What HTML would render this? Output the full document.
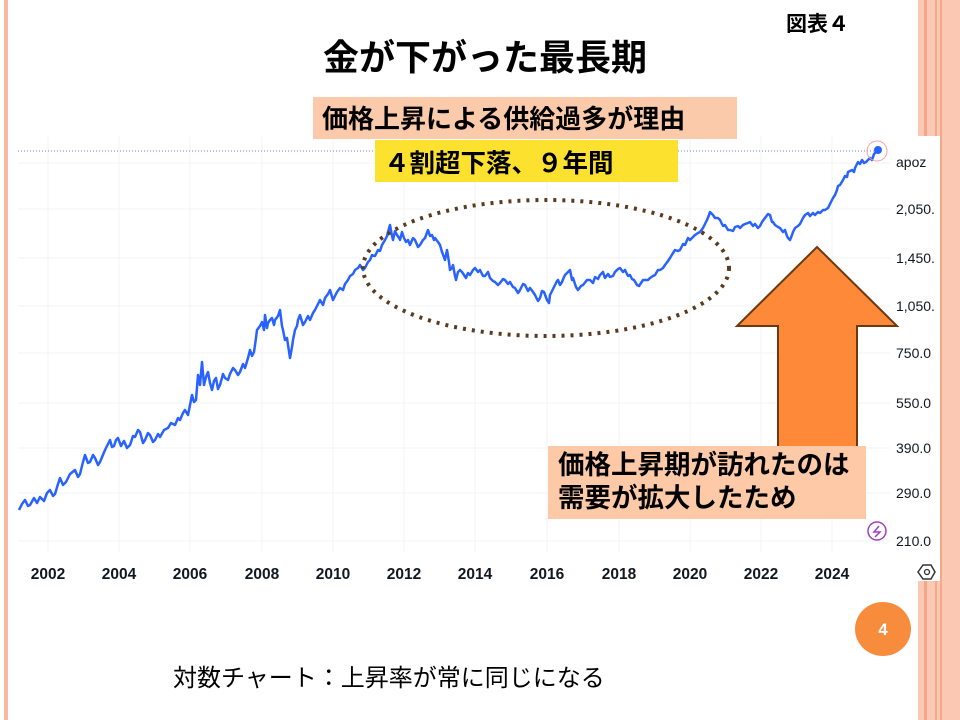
<!DOCTYPE html>
<html><head><meta charset="utf-8"><style>
body{margin:0;width:960px;height:720px;overflow:hidden;background:#fff;font-family:"Liberation Sans","Noto Sans CJK JP",sans-serif;position:relative}
.a{position:absolute;white-space:nowrap}
</style></head><body>
<div class="a" style="left:4px;top:0;width:4px;height:720px;background:#f7b9a0"></div>
<div class="a" style="left:918px;top:0;width:42px;height:720px;background:#fbc9b3"></div>
<div class="a" style="left:924px;top:0;width:3px;height:720px;background:#f4a88a"></div>
<div class="a" style="left:935px;top:0;width:2px;height:720px;background:#f4a88a"></div>
<div class="a" style="left:940px;top:0;width:2px;height:720px;background:#f4a88a"></div>
<svg class="a" style="left:0;top:0" width="960" height="720">
<rect x="14" y="136" width="926" height="445" fill="#fff"/>
<g stroke="#f0f3f7" stroke-width="1">
<line x1="18" x2="890" y1="163" y2="163"/><line x1="18" x2="890" y1="209" y2="209"/><line x1="18" x2="890" y1="258" y2="258"/><line x1="18" x2="890" y1="306" y2="306"/><line x1="18" x2="890" y1="353" y2="353"/><line x1="18" x2="890" y1="403" y2="403"/><line x1="18" x2="890" y1="448" y2="448"/><line x1="18" x2="890" y1="493" y2="493"/><line x1="18" x2="890" y1="541" y2="541"/>
<line x1="48" x2="48" y1="136" y2="552"/><line x1="119" x2="119" y1="136" y2="552"/><line x1="190" x2="190" y1="136" y2="552"/><line x1="262" x2="262" y1="136" y2="552"/><line x1="333" x2="333" y1="136" y2="552"/><line x1="404" x2="404" y1="136" y2="552"/><line x1="475" x2="475" y1="136" y2="552"/><line x1="547" x2="547" y1="136" y2="552"/><line x1="619" x2="619" y1="136" y2="552"/><line x1="690" x2="690" y1="136" y2="552"/><line x1="761" x2="761" y1="136" y2="552"/><line x1="832" x2="832" y1="136" y2="552"/>
</g>
<line x1="18" x2="880" y1="151" y2="151" stroke="#6f86d6" stroke-width="1" stroke-dasharray="1,2"/>
<polyline fill="none" stroke="#2962ff" stroke-width="2.5" stroke-linejoin="round" points="19,510 22,504 25,500 28,506 30,505 34,498 37,503 40,497 44,501 47,493 50,490 53,496 55,494 58,484 60,478 63,485 66,482 70,474 75,470 78,477 80,474 83,462 85,455 88,463 90,462 93,455 95,458 98,465 100,462 105,450 110,440 112,447 114,446 116,440 118,438 121,446 124,441 127,448 130,445 133,436 135,437 138,430 140,432 143,443 145,440 148,433 150,435 153,442 155,440 158,434 160,437 164,430 168,428 171,423 175,425 178,418 180,420 183,413 185,410 188,415 190,405 192,395 194,402 196,400 198,375 200,385 202,362 204,385 206,377 208,372 210,383 212,390 214,381 216,378 218,389 220,385 223,374 225,378 228,380 230,374 233,368 235,370 238,375 240,372 243,364 245,368 248,358 250,350 252,356 254,352 256,338 257,330 260,326 262,322 264,330 265,315 267,328 268,323 270,320 272,318 274,325 275,320 278,316 280,310 282,326 283,330 285,340 287,338 288,345 290,358 292,347 293,340 295,330 297,326 298,320 300,315 303,325 305,322 308,316 310,320 313,313 315,310 318,304 320,300 323,305 325,298 328,294 330,290 333,300 335,296 337,292 340,288 343,290 345,284 348,280 350,276 353,274 355,270 358,268 360,265 363,270 365,268 368,262 370,260 372,255 375,256 378,250 380,251 382,245 385,240 387,236 388,232 390,225 392,236 393,240 395,231 397,235 399,238 400,240 402,232 404,238 406,242 408,240 410,245 413,238 415,240 418,247 420,245 423,240 425,238 428,230 430,236 432,235 434,240 435,238 438,242 440,245 442,252 445,260 447,250 449,262 450,270 452,268 453,265 455,276 456,280 458,272 460,270 462,272 464,275 466,278 468,273 470,275 473,270 475,268 478,272 480,270 483,276 485,276 488,272 490,278 493,281 495,282 498,285 500,283 503,279 505,280 508,284 510,282 513,287 515,288 518,293 520,290 523,284 525,285 528,291 530,288 533,292 535,295 538,301 540,298 542,291 544,292 547,300 549,303 550,295 553,289 555,285 557,281 558,280 560,285 562,282 564,277 565,275 568,272 570,270 572,280 573,278 576,287 578,290 581,286 583,285 587,280 590,280 593,283 595,277 598,279 600,275 603,272 605,278 608,274 610,277 613,276 615,272 618,269 620,268 623,272 625,270 628,276 630,275 632,279 634,280 637,285 639,286 641,283 643,280 645,280 648,280 650,278 653,276 655,275 658,270 660,270 663,268 665,265 668,261 670,258 673,253 675,250 678,251 680,250 683,244 685,245 688,238 690,240 693,237 695,235 698,233 700,232 703,228 705,224 707,220 709,215 710,212 713,215 715,218 718,218 720,220 723,226 725,225 728,230 730,230 733,231 735,227 738,226 740,228 743,225 745,224 748,223 750,222 753,226 755,224 758,228 760,226 762,222 765,218 768,214 770,215 772,222 773,222 775,225 778,227 780,228 783,232 785,230 787,236 788,238 790,240 792,235 793,232 795,228 798,226 800,224 803,218 805,215 808,213 810,216 813,213 815,215 818,212 820,213 823,210 825,210 828,208 830,204 833,198 835,195 837,190 838,186 840,185 843,180 845,176 847,177 848,172 850,171 852,170 854,172 855,168 857,164 858,162 860,164 862,160 864,163 866,162 868,160 870,158 872,160 874,154 876,152 878,150"/>
<circle cx="878" cy="150" r="4" fill="#2962ff"/>
<circle cx="877" cy="151" r="10" fill="none" stroke="#f2a0a8" stroke-width="1"/>
<ellipse cx="546" cy="268" rx="183" ry="68" fill="none" stroke="#5b3a1e" stroke-width="4" stroke-dasharray="3,6"/>
<polygon points="817,247 897,326 857,326 857,450 778,450 778,326 737,326" fill="#fe8a39" stroke="#6b3a12" stroke-width="2"/>
<g font-size="14" fill="#131722">
<text x="896" y="167">apoz</text>
<text x="896" y="214">2,050.</text><text x="896" y="263">1,450.</text><text x="896" y="311">1,050.</text><text x="896" y="358">750.0</text><text x="896" y="408">550.0</text><text x="896" y="453">390.0</text><text x="896" y="498">290.0</text><text x="896" y="546">210.0</text>
</g>
<g font-size="15.5" fill="#131722" text-anchor="middle" font-weight="bold">
<text x="48" y="579">2002</text><text x="119" y="579">2004</text><text x="190" y="579">2006</text><text x="262" y="579">2008</text><text x="333" y="579">2010</text><text x="404" y="579">2012</text><text x="475" y="579">2014</text><text x="547" y="579">2016</text><text x="619" y="579">2018</text><text x="690" y="579">2020</text><text x="761" y="579">2022</text><text x="832" y="579">2024</text>
</g>
<circle cx="877" cy="531" r="9" fill="none" stroke="#a040c0" stroke-width="1.5"/>
<path d="M879,526 L874,532 L880,532 L875,537" fill="none" stroke="#a040c0" stroke-width="1.5"/>
<polygon points="918,572 923,565 931,565 935,572 931,579 923,579" fill="none" stroke="#333" stroke-width="1.5"/>
<circle cx="927" cy="572" r="2.5" fill="none" stroke="#333" stroke-width="1.3"/>
<ellipse cx="883" cy="629" rx="28" ry="27" fill="#f78c3c"/>
<text x="883" y="635" font-size="17" font-weight="bold" fill="#fff" text-anchor="middle">4</text>
</svg>
<div class="a" style="left:786px;top:8px;font-size:21px;font-weight:bold">図表４</div>
<div class="a" style="left:323px;top:29px;font-size:36px;font-weight:bold">金が下がった最長期</div>
<div class="a" style="left:313px;top:97px;width:424px;height:42px;background:#fbcaaa"></div>
<div class="a" style="left:322px;top:99px;font-size:26px;font-weight:bold">価格上昇による供給過多が理由</div>
<div class="a" style="left:375px;top:140px;width:303px;height:42px;background:#fde12f"></div>
<div class="a" style="left:384px;top:143px;font-size:25.5px;font-weight:bold">４割超下落、９年間</div>
<div class="a" style="left:548px;top:446px;width:318px;height:73px;background:#fdc9a6"></div>
<div class="a" style="left:558px;top:449px;font-size:26.5px;font-weight:bold;line-height:33px">価格上昇期が訪れたのは<br>需要が拡大したため</div>
<div class="a" style="left:173px;top:658px;font-size:24px">対数チャート：上昇率が常に同じになる</div>
</body></html>
